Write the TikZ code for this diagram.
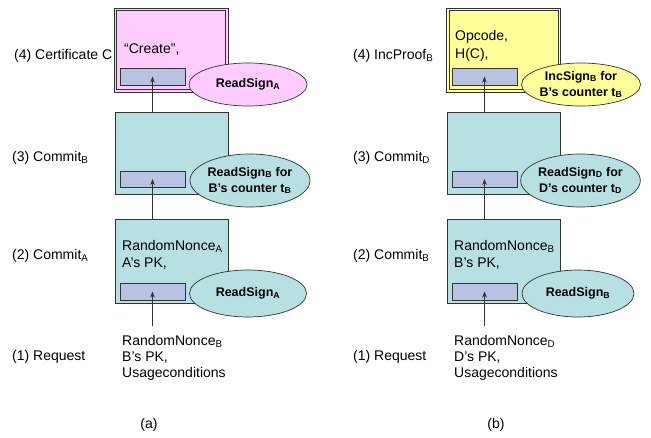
\documentclass[tikz,border=0pt]{standalone}
\usepackage{fontspec}
\setmainfont{Liberation Sans}
\usetikzlibrary{shapes.geometric,arrows.meta}
\definecolor{pinkfill}{HTML}{FFCCFF}
\definecolor{yellowfill}{HTML}{FFFF99}
\definecolor{tealfill}{HTML}{B7E0E3}
\definecolor{innerblue}{HTML}{B8C3E2}
\definecolor{edge}{HTML}{333333}
\begin{document}
\begin{tikzpicture}[x=1pt,y=-1pt,
  lbl/.style={anchor=base west, inner sep=0, font=\fontsize{14}{16}\selectfont},
  txt/.style={anchor=base west, inner sep=0, font=\fontsize{14}{17}\selectfont},
  captxt/.style={anchor=base, inner sep=0, font=\fontsize{14}{16}\selectfont},
  msgbox/.style={draw=edge, line width=0.7pt, inner sep=0, outer sep=0},
  innerline/.style={draw=edge, line width=0.6pt},
  innerbox/.style={draw=edge, fill=innerblue, line width=0.7pt, inner sep=0, outer sep=0},
  sig/.style={ellipse, draw=edge, line width=0.7pt, inner sep=0, align=center,
    font=\bfseries\fontsize{12.5}{16}\selectfont},
  arr/.style={-{Stealth[length=6pt,width=4.5pt]}, line width=0.6pt, draw=edge}
]
\useasboundingbox (0,0) rectangle (651,437);

% ---------------- panel (a) ----------------
\node[lbl] (a4l) at (14,59) {(4) Certificate C};
\node[lbl] (a3l) at (12,161) {(3) Commit\textsubscript{B}};
\node[lbl] (a2l) at (12,259) {(2) Commit\textsubscript{A}};
\node[lbl] (a1l) at (12,360) {(1) Request};

\node[msgbox, fill=pinkfill, minimum width=114pt, minimum height=84pt] (a4) at (171,50) {};
\draw[innerline] ([shift={(2.6pt,-2.6pt)}]a4.north west) rectangle ([shift={(-2.6pt,2.6pt)}]a4.south east);
\node[innerbox, minimum width=65pt, minimum height=17pt] (a4in) at (152.5,76.5) {};
\node[txt] (a4t) at (124,53) {“Create”,};
\node[sig, fill=pinkfill, minimum width=118pt, minimum height=43pt] (a4s) at (248,84.5) {ReadSign\textsubscript{A}};

\node[msgbox, fill=tealfill, minimum width=113pt, minimum height=82pt] (a3) at (171.5,153) {};
\node[innerbox, minimum width=65pt, minimum height=16pt] (a3in) at (152.5,179) {};
\node[sig, fill=tealfill, minimum width=120pt, minimum height=53pt] (a3s) at (250,180.5) {ReadSign\textsubscript{B} for\\B’s counter t\textsubscript{B}};

\node[msgbox, fill=tealfill, minimum width=113pt, minimum height=84pt] (a2) at (171.5,261) {};
\node[innerbox, minimum width=65pt, minimum height=17pt] (a2in) at (152.5,291.5) {};
\node[txt] (a2t1) at (122,250) {RandomNonce\textsubscript{A}};
\node[txt] (a2t2) at (122,267) {A’s PK,};
\node[sig, fill=tealfill, minimum width=117pt, minimum height=47pt] (a2s) at (248,293.5) {ReadSign\textsubscript{A}};

\node[txt] (a1t1) at (122,345) {RandomNonce\textsubscript{B}};
\node[txt] (a1t2) at (122,361) {B’s PK,};
\node[txt] (a1t3) at (122,377) {Usageconditions};
\coordinate (a1top) at (152.5,326);

\draw[arr] (a1top) -- (a2in.center);
\draw[arr] (a2.north -| a3in.center) -- (a3in.center);
\draw[arr] (a3.north -| a4in.center) -- (a4in.center);

\node[captxt] (acap) at (149,428) {(a)};

% ---------------- panel (b) ----------------
\node[lbl] (b4l) at (353,59) {(4) IncProof\textsubscript{B}};
\node[lbl] (b3l) at (353,161) {(3) Commit\textsubscript{D}};
\node[lbl] (b2l) at (353,259) {(2) Commit\textsubscript{B}};
\node[lbl] (b1l) at (353,360) {(1) Request};

\node[msgbox, fill=yellowfill, minimum width=114pt, minimum height=84pt] (b4) at (503.5,50) {};
\draw[innerline] ([shift={(2.6pt,-2.6pt)}]b4.north west) rectangle ([shift={(-2.6pt,2.6pt)}]b4.south east);
\node[innerbox, minimum width=65pt, minimum height=17pt] (b4in) at (484.5,76.5) {};
\node[txt] (b4t1) at (455,40) {Opcode,};
\node[txt] (b4t2) at (455,58) {H(C),};
\node[sig, fill=yellowfill, minimum width=119pt, minimum height=43pt] (b4s) at (581,84.5) {IncSign\textsubscript{B} for\\B’s counter t\textsubscript{B}};

\node[msgbox, fill=tealfill, minimum width=113pt, minimum height=82pt] (b3) at (503.5,153) {};
\node[innerbox, minimum width=65pt, minimum height=16pt] (b3in) at (484.5,179) {};
\node[sig, fill=tealfill, minimum width=117pt, minimum height=53pt] (b3s) at (580.5,180.5) {ReadSign\textsubscript{D} for\\D’s counter t\textsubscript{D}};

\node[msgbox, fill=tealfill, minimum width=113pt, minimum height=84pt] (b2) at (503.5,261) {};
\node[innerbox, minimum width=65pt, minimum height=17pt] (b2in) at (484.5,291.5) {};
\node[txt] (b2t1) at (454,250) {RandomNonce\textsubscript{B}};
\node[txt] (b2t2) at (454,267) {B’s PK,};
\node[sig, fill=tealfill, minimum width=112pt, minimum height=47pt] (b2s) at (578,293.5) {ReadSign\textsubscript{B}};

\node[txt] (b1t1) at (454,345) {RandomNonce\textsubscript{D}};
\node[txt] (b1t2) at (454,361) {D’s PK,};
\node[txt] (b1t3) at (454,377) {Usageconditions};
\coordinate (b1top) at (484.5,326);

\draw[arr] (b1top) -- (b2in.center);
\draw[arr] (b2.north -| b3in.center) -- (b3in.center);
\draw[arr] (b3.north -| b4in.center) -- (b4in.center);

\node[captxt] (bcap) at (496,428) {(b)};
\end{tikzpicture}
\end{document}
